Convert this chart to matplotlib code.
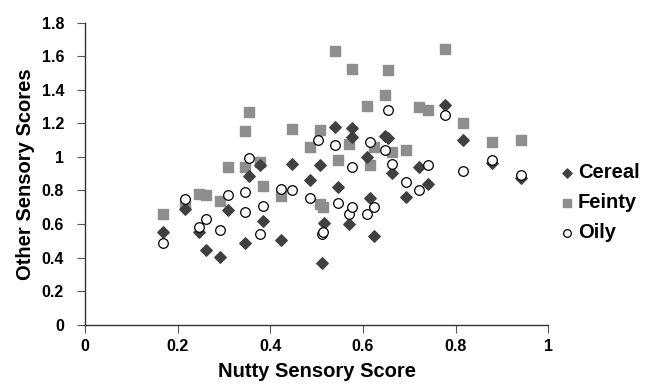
import matplotlib.pyplot as plt
from matplotlib.ticker import FuncFormatter

plt.rcParams['font.family'] = ['Liberation Sans', 'DejaVu Sans']
plt.rcParams['font.weight'] = 'bold'

# Nutty score (x) vs other sensory scores (y)
cereal_x = [0.169, 0.215, 0.246, 0.261, 0.292, 0.308, 0.346, 0.354, 0.377, 0.384,
            0.423, 0.447, 0.485, 0.508, 0.511, 0.516, 0.539, 0.547, 0.570, 0.577,
            0.577, 0.609, 0.616, 0.624, 0.647, 0.655, 0.663, 0.694, 0.721, 0.740,
            0.778, 0.817, 0.879, 0.941]
cereal_y = [0.553, 0.689, 0.553, 0.446, 0.405, 0.685, 0.486, 0.887, 0.950, 0.621,
            0.508, 0.956, 0.863, 0.952, 0.367, 0.609, 1.180, 0.820, 0.599, 1.170,
            1.121, 0.998, 0.754, 0.530, 1.127, 1.111, 0.907, 0.764, 0.940, 0.839,
            1.311, 1.101, 0.965, 0.873]

feinty_x = [0.168, 0.215, 0.246, 0.261, 0.292, 0.308, 0.346, 0.346, 0.354, 0.377,
            0.384, 0.423, 0.447, 0.485, 0.508, 0.508, 0.515, 0.539, 0.547, 0.570,
            0.577, 0.609, 0.616, 0.624, 0.647, 0.655, 0.663, 0.694, 0.721, 0.740,
            0.778, 0.817, 0.879, 0.941]
feinty_y = [0.660, 0.724, 0.780, 0.772, 0.736, 0.939, 0.939, 1.153, 1.266, 0.970,
            0.829, 0.768, 1.167, 1.061, 1.160, 0.722, 0.700, 1.633, 0.980, 1.079,
            1.526, 1.304, 0.952, 1.061, 1.367, 1.518, 1.032, 1.042, 1.298, 1.282,
            1.641, 1.202, 1.087, 1.101]

oily_x = [0.169, 0.215, 0.246, 0.261, 0.292, 0.308, 0.346, 0.346, 0.354, 0.377,
          0.384, 0.423, 0.446, 0.485, 0.504, 0.511, 0.515, 0.539, 0.547, 0.570,
          0.577, 0.577, 0.609, 0.616, 0.624, 0.647, 0.655, 0.663, 0.694, 0.721,
          0.740, 0.778, 0.817, 0.879, 0.941]
oily_y = [0.486, 0.748, 0.581, 0.633, 0.565, 0.772, 0.788, 0.673, 0.996, 0.540,
          0.708, 0.808, 0.800, 0.754, 1.101, 0.539, 0.555, 1.073, 0.728, 0.661,
          0.700, 0.942, 0.661, 1.087, 0.700, 1.042, 1.278, 0.956, 0.853, 0.800,
          0.954, 1.250, 0.915, 0.982, 0.893]

fig = plt.figure(figsize=(6.48, 3.89), dpi=100)
ax = fig.add_axes([0.131, 0.165, 0.715, 0.777])

ax.scatter(cereal_x, cereal_y, marker='D', s=34, color='#404040', label='Cereal', zorder=3)
ax.scatter(feinty_x, feinty_y, marker='s', s=45, color='#8e8e8e', label='Feinty', zorder=2)
ax.scatter(oily_x, oily_y, marker='o', s=48, facecolor='white', edgecolor='black',
           linewidth=0.9, label='Oily', zorder=4)

ax.set_xlim(0, 1)
ax.set_ylim(0, 1.8)
ax.set_xticks([0, 0.2, 0.4, 0.6, 0.8, 1])
ax.set_yticks([0, 0.2, 0.4, 0.6, 0.8, 1, 1.2, 1.4, 1.6, 1.8])
fmt = FuncFormatter(lambda v, p: '%g' % round(v, 1))
ax.xaxis.set_major_formatter(fmt)
ax.yaxis.set_major_formatter(fmt)

for s in ['top', 'right']:
    ax.spines[s].set_visible(False)
for s in ['left', 'bottom']:
    ax.spines[s].set_color('#333333')
    ax.spines[s].set_linewidth(1.0)
ax.tick_params(direction='out', length=6, width=0.8, color='#555555', labelsize=11.5)
ax.tick_params(axis='y', pad=9)
ax.tick_params(axis='x', pad=4)

ax.set_xlabel('Nutty Sensory Score', fontsize=14.5, fontweight='bold', labelpad=6)
ax.set_ylabel('Other Sensory Scores', fontsize=14.5, fontweight='bold', labelpad=5)

ax.legend(loc='center left', bbox_to_anchor=(0.995, 0.404), frameon=False,
          fontsize=14.5, handletextpad=0.1, labelspacing=0.55, markerscale=0.8,
          handlelength=0.9, borderaxespad=0.3, borderpad=0.3)

fig.savefig('out.png', dpi=100)
